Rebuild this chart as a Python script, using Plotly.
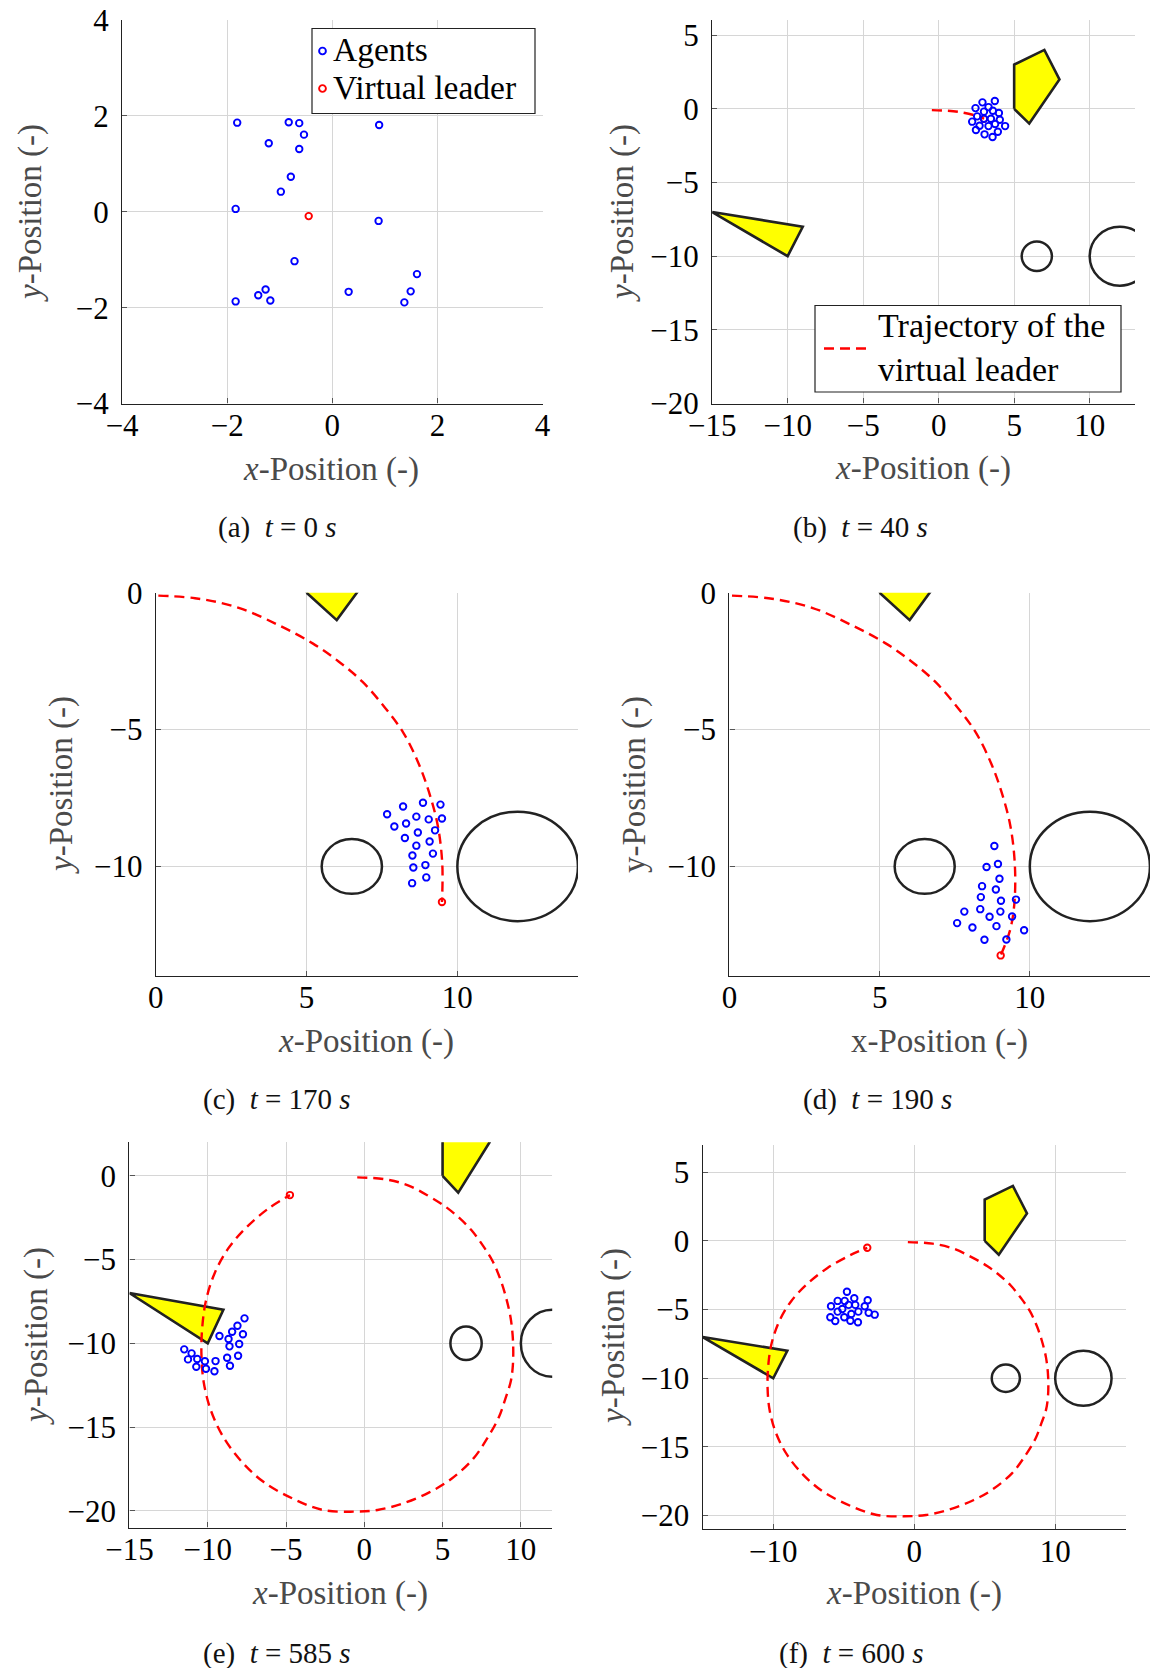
import plotly.graph_objects as go

FONT = "Liberation Serif"
W, H = 1150, 1668

# ---- static obstacles (data coordinates) ----
PENTAGON_X = [5, 5, 7, 8, 6, 5]
PENTAGON_Y = [0, 3, 4, 2, -1, 0]
TRIANGLE_X = [-15, -9, -10, -15]
TRIANGLE_Y = [-7, -8, -10, -7]
CIRCLE_CX = [6.5, 12.0]
CIRCLE_CY = [-10.0, -10.0]
CIRCLE_R = [1.0, 2.0]

# ---- path followed by the virtual leader (clockwise from the start) ----
TRAJ_X = [-0.45, 1.30, 2.75, 4.10, 5.20, 6.05, 6.85, 7.60, 8.20, 8.70, 9.05, 9.35,
          9.50, 9.49, 9.35, 9.03, 8.60, 7.90, 6.95, 5.55, 4.15, 2.50, 0.85, -0.70,
          -2.65, -4.50, -6.40, -7.80, -9.00, -9.80, -10.25, -10.40, -10.35, -10.10,
          -9.55, -8.70, -7.55, -6.15, -4.75, -4.00, -3.33]
TRAJ_Y = [-0.09, -0.20, -0.55, -1.20, -1.85, -2.50, -3.25, -4.20, -5.10, -6.20, -7.25,
          -8.50, -9.90, -11.30, -12.30, -13.25, -14.40, -15.60, -16.90, -18.10,
          -18.90, -19.55, -19.95, -20.05, -19.95, -19.30, -18.30, -17.10, -15.60,
          -14.00, -12.35, -10.70, -9.05, -7.40, -5.80, -4.35, -3.10, -1.97, -1.15,
          -0.78, -0.50]

# ---- snapshots ----
TIMES = [0, 40, 170, 190, 585, 600]
LEADER_X = [-0.45, 3.00, 9.49, 9.03, -4.75, -3.33]
LEADER_Y = [-0.09, -0.68, -11.30, -13.25, -1.15, -0.50]
TRAJ_POINTS = [0, 3, 13, 15, 38, 40]   # path points travelled before each snapshot

AGENTS_X_A = [-1.81, -0.83, -0.63, 0.89, -0.54, -1.21, -0.63, -0.79, -0.98, -1.84,
              0.88, -0.72, 1.61, -1.27, -1.41, -1.18, -1.84, 0.31, 1.49, 1.37]
AGENTS_Y_A = [1.86, 1.87, 1.85, 1.81, 1.61, 1.43, 1.31, 0.73, 0.42, 0.06,
              -0.19, -1.03, -1.30, -1.62, -1.74, -1.85, -1.87, -1.67, -1.66, -1.89]

AGENTS_X_B = [3.72, 2.90, 2.44, 3.30, 3.00, 3.59, 3.99, 2.55, 3.00, 3.46,
              4.05, 2.22, 3.74, 2.71, 3.30, 4.40, 2.47, 3.92, 3.04, 3.57]
AGENTS_Y_B = [0.53, 0.44, 0.05, 0.12, -0.19, -0.13, -0.28, -0.51, -0.67, -0.67,
              -0.74, -0.87, -1.03, -1.15, -1.17, -1.17, -1.44, -1.55, -1.73, -1.91]

AGENTS_X_C = [8.86, 9.44, 8.20, 7.67, 8.64, 9.05, 9.49, 7.91, 8.30, 9.26,
              8.69, 8.26, 9.08, 8.64, 9.19, 8.51, 8.94, 8.54, 8.97, 8.50]
AGENTS_Y_C = [-7.67, -7.74, -7.81, -8.09, -8.18, -8.28, -8.25, -8.54, -8.43, -8.68,
              -8.76, -8.96, -9.09, -9.24, -9.53, -9.60, -9.95, -10.04, -10.40, -10.61]

AGENTS_X_D = [8.82, 8.94, 8.56, 8.99, 8.41, 8.87, 8.37, 9.04, 9.54, 8.35,
              9.02, 7.82, 8.66, 9.41, 7.58, 8.09, 8.89, 9.81, 8.49, 9.22]
AGENTS_Y_D = [-9.25, -9.91, -10.02, -10.45, -10.72, -10.84, -11.12, -11.25, -11.21, -11.56,
              -11.65, -11.65, -11.84, -11.83, -12.07, -12.23, -12.18, -12.33, -12.68, -12.67]

AGENTS_X_E = [-7.65, -8.10, -8.44, -7.75, -9.25, -8.67, -7.99, -8.61, -11.50, -11.03,
              -8.06, -8.76, -10.67, -11.26, -10.18, -9.50, -10.73, -8.58, -10.11, -9.57]
AGENTS_Y_E = [-8.51, -8.95, -9.31, -9.46, -9.56, -9.74, -10.04, -10.18, -10.36, -10.60,
              -10.74, -10.86, -10.94, -10.96, -11.07, -11.06, -11.40, -11.34, -11.52, -11.67]

AGENTS_X_F = [-4.77, -4.25, -5.43, -4.93, -3.30, -4.65, -4.18, -5.90, -3.51, -5.10,
              -5.43, -3.96, -4.46, -3.23, -2.80, -5.95, -4.96, -5.60, -4.53, -3.99]
AGENTS_Y_F = [-3.70, -4.18, -4.37, -4.37, -4.32, -4.66, -4.66, -4.76, -4.76, -4.96,
              -5.15, -5.15, -5.32, -5.23, -5.37, -5.56, -5.56, -5.83, -5.81, -5.92]

AGENTS_X = [AGENTS_X_A, AGENTS_X_B, AGENTS_X_C, AGENTS_X_D, AGENTS_X_E, AGENTS_X_F]
AGENTS_Y = [AGENTS_Y_A, AGENTS_Y_B, AGENTS_Y_C, AGENTS_Y_D, AGENTS_Y_E, AGENTS_Y_F]

LETTERS = ["a", "b", "c", "d", "e", "f"]
X_RANGES = [(-4, 4), (-15, 13), (0, 14), (0, 14), (-15, 12), (-15, 15)]
Y_RANGES = [(-4, 4), (-20, 6), (-14, 0), (-14, 0), (-21, 2), (-21, 7)]
X_DTICK = [2, 5, 5, 5, 5, 10]
Y_DTICK = [2, 5, 5, 5, 5, 5]

AGENT_COLOR = "#0000ff"
LEADER_COLOR = "#ff0000"
TRAJ_DASH = "10px,6px"


# ---- layout geometry in pixels ----
def px_x(v):
    return v / W


def px_y(v):
    return 1 - v / H


PLOT_BOX = [  # left, right, top, bottom (px)
    (122, 542.7, 20, 403.6),
    (712.1, 1135, 20.4, 403.6),
    (155.8, 578, 592.7, 976),
    (729.4, 1150, 592.7, 976),
    (129.4, 552.2, 1142.3, 1527.6),
    (702.7, 1125.7, 1144.7, 1529.4),
]
CAPTION_POS = [(277, 527), (860, 527), (277, 1099), (877, 1099), (277, 1653), (851, 1653)]
XTITLE_POS = [(331, 469), (923, 468), (366, 1041), (939.5, 1041), (340, 1593), (914, 1593)]
YTITLE_POS = [(31, 213), (623, 213), (62, 785), (635, 785), (36, 1336), (613, 1337)]

fig = go.Figure()
layout = {}
annotations = []
shapes = []

for i in range(6):
    sx = "" if i == 0 else str(i + 1)
    xa, ya = "x" + sx, "y" + sx
    left, right, top, bottom = PLOT_BOX[i]
    eps = 0.002
    axis_common = dict(
        showgrid=True, gridcolor="#d6d6d6", gridwidth=1,
        zeroline=False, showline=True, linecolor="#222", linewidth=1.3,
        ticks="inside", ticklen=5, tickwidth=1, tickcolor="#555",
        tickfont=dict(family=FONT, size=31, color="black"),
        tick0=0, fixedrange=True, automargin=False,
    )
    layout["xaxis" + sx] = dict(
        axis_common, domain=[px_x(left), px_x(right)],
        range=[X_RANGES[i][0] - eps, X_RANGES[i][1] + eps],
        dtick=X_DTICK[i], anchor=ya, ticklabelstandoff=-6,
    )
    layout["yaxis" + sx] = dict(
        axis_common, domain=[px_y(bottom), px_y(top)],
        range=[Y_RANGES[i][0] - eps, Y_RANGES[i][1] + eps],
        dtick=Y_DTICK[i], anchor=xa, ticklabelstandoff=6,
    )

    # obstacles
    for ox, oy in ((PENTAGON_X, PENTAGON_Y), (TRIANGLE_X, TRIANGLE_Y)):
        fig.add_trace(go.Scatter(
            x=ox, y=oy, xaxis=xa, yaxis=ya, mode="lines", fill="toself",
            fillcolor="#ffff00", line=dict(color="#222", width=2.6),
            showlegend=False, hoverinfo="skip"))
    for cx, cy, r in zip(CIRCLE_CX, CIRCLE_CY, CIRCLE_R):
        shapes.append(dict(type="circle", xref=xa, yref=ya,
                           x0=cx - r, x1=cx + r, y0=cy - r, y1=cy + r,
                           line=dict(color="#222", width=2.5), layer="above"))

    # travelled path of the virtual leader
    n = TRAJ_POINTS[i]
    if n > 0:
        fig.add_trace(go.Scatter(
            x=TRAJ_X[:n] + [LEADER_X[i]], y=TRAJ_Y[:n] + [LEADER_Y[i]],
            xaxis=xa, yaxis=ya, mode="lines",
            line=dict(color=LEADER_COLOR, width=2.4, dash=TRAJ_DASH, shape="spline"),
            showlegend=False, hoverinfo="skip"))

    # virtual leader
    fig.add_trace(go.Scatter(
        x=[LEADER_X[i]], y=[LEADER_Y[i]], xaxis=xa, yaxis=ya, mode="markers",
        marker=dict(symbol="circle-open", size=6.5, color=LEADER_COLOR, line=dict(width=1.9)),
        showlegend=False, name="Virtual leader"))

    # agents
    fig.add_trace(go.Scatter(
        x=AGENTS_X[i], y=AGENTS_Y[i], xaxis=xa, yaxis=ya, mode="markers",
        marker=dict(symbol="circle-open", size=6.5, color=AGENT_COLOR, line=dict(width=1.9)),
        showlegend=False, name="Agents"))

    # captions and axis titles
    cx_, cy_ = CAPTION_POS[i]
    annotations.append(dict(
        text=f"({LETTERS[i]})&nbsp;&nbsp;<i>t</i> = {TIMES[i]}&nbsp;<i>s</i>",
        x=px_x(cx_), y=px_y(cy_), xref="paper", yref="paper",
        xanchor="center", yanchor="middle", showarrow=False,
        font=dict(family=FONT, size=29, color="#111")))
    italic = LETTERS[i] != "d"
    xt = "<i>x</i>-Position (-)" if italic else "x-Position (-)"
    yt = "<i>y</i>-Position (-)" if italic else "y-Position (-)"
    tx, ty = XTITLE_POS[i]
    annotations.append(dict(
        text=xt, x=px_x(tx), y=px_y(ty), xref="paper", yref="paper",
        xanchor="center", yanchor="middle", showarrow=False,
        font=dict(family=FONT, size=33, color="#4a4a4a")))
    tx, ty = YTITLE_POS[i]
    annotations.append(dict(
        text=yt, x=px_x(tx), y=px_y(ty), xref="paper", yref="paper",
        xanchor="center", yanchor="middle", showarrow=False, textangle=-90,
        font=dict(family=FONT, size=33, color="#4a4a4a")))


# ---- legend boxes (drawn in pixel space on the page) ----
def px_rect(x0, x1, y0, y1, **kw):
    return dict(xref="paper", yref="paper", x0=px_x(x0), x1=px_x(x1),
                y0=px_y(y1), y1=px_y(y0), layer="above", **kw)


def legend_marker(cx, cy, color, r=3.4):
    return px_rect(cx - r, cx + r, cy - r, cy + r, type="circle",
                   line=dict(color=color, width=1.9), fillcolor="rgba(0,0,0,0)")


# legend of panel (a)
shapes.append(px_rect(312, 535, 28.5, 113.5, type="rect", fillcolor="white",
                      line=dict(color="#222", width=1.2)))
LEGEND_A = [("Agents", AGENT_COLOR, 49.5), ("Virtual leader", LEADER_COLOR, 87)]
for label, color, yc in LEGEND_A:
    shapes.append(legend_marker(322.5, yc + 1.5, color))
    annotations.append(dict(
        text=label, x=px_x(331), y=px_y(yc), xref="paper", yref="paper",
        xanchor="left", yanchor="middle", showarrow=False,
        font=dict(family=FONT, size=33.5, color="black")))

# legend of panel (b)
shapes.append(px_rect(815, 1121, 305.5, 392, type="rect", fillcolor="white",
                      line=dict(color="#222", width=1.2)))
shapes.append(dict(type="line", xref="paper", yref="paper",
                   x0=px_x(824), x1=px_x(866), y0=px_y(348.5), y1=px_y(348.5),
                   line=dict(color=LEADER_COLOR, width=2.4, dash=TRAJ_DASH), layer="above"))
annotations.append(dict(
    text="Trajectory of the<br>virtual leader", x=px_x(876), y=px_y(347),
    xref="paper", yref="paper", xanchor="left", yanchor="middle", align="left",
    showarrow=False, font=dict(family=FONT, size=34, color="black")))

fig.update_layout(
    width=W, height=H, margin=dict(l=0, r=0, t=0, b=0, autoexpand=False),
    paper_bgcolor="white", plot_bgcolor="white", showlegend=False,
    annotations=annotations, shapes=shapes, **layout,
)

fig.write_html("out.html", config=dict(displayModeBar=False))
